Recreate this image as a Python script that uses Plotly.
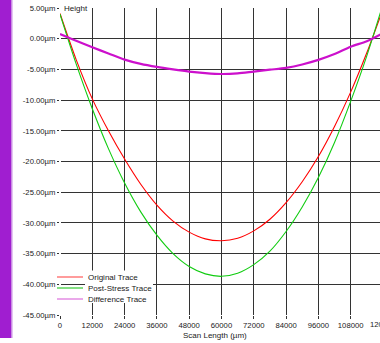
import plotly.graph_objects as go

# ---- data ----
scan_length = [0, 6000, 12000, 18000, 24000, 30000, 36000, 42000, 48000, 54000, 60000,
               66000, 72000, 78000, 84000, 90000, 96000, 102000, 108000, 114000, 120000]
original_trace = [4.1, -3.4, -9.8, -15.0, -19.6, -23.7, -27.1, -29.7, -31.5, -32.6, -32.9,
                  -32.5, -31.3, -29.4, -26.7, -23.3, -19.2, -14.3, -8.7, -2.3, 4.8]
post_stress_trace = [4.0, -4.1, -11.4, -17.9, -23.5, -28.2, -32.0, -35.0, -37.1, -38.3, -38.7,
                     -38.2, -36.8, -34.6, -31.4, -27.4, -22.6, -16.9, -10.2, -2.8, 5.6]
difference_trace = [0.75, -0.35, -1.4, -2.4, -3.4, -4.1, -4.6, -5.0, -5.35, -5.6, -5.75,
                    -5.65, -5.35, -5.05, -4.75, -4.2, -3.45, -2.5, -1.3, -0.4, 0.9]

x_tick_vals = [0, 12000, 24000, 36000, 48000, 60000, 72000, 84000, 96000, 108000, 120000]
x_tick_text = ["0", "12000", "24000", "36000", "48000", "60000", "72000", "84000",
               "96000", "108000", "120000"]
y_tick_vals = [5, 0, -5, -10, -15, -20, -25, -30, -35, -40, -45]
y_tick_text = ["5.00µm", "0.00µm", "-5.00µm", "-10.00µm", "-15.00µm", "-20.00µm",
               "-25.00µm", "-30.00µm", "-35.00µm", "-40.00µm", "-45.00µm"]
series_names = ["Original Trace", "Post-Stress Trace", "Difference Trace"]

FONT = "Liberation Sans, Arial, sans-serif"
W, H = 380, 343
ML, MR, MT, MB = 60, 0, 8, 28
PW, PH = W - ML - MR, H - MT - MB


def px_x(p):
    return (p - ML) / PW


def px_y(p):
    return (H - MB - p) / PH


fig = go.Figure()
colors = ["#FF0000", "#11CC11", "#CC10CC"]
widths = [1.1, 1.1, 2.2]
for name, ys, c, w in zip(series_names, [original_trace, post_stress_trace, difference_trace],
                          colors, widths):
    fig.add_trace(go.Scatter(x=scan_length, y=ys, mode="lines", name=name,
                             line=dict(color=c, width=w, shape="spline", smoothing=0.8),
                             showlegend=False))

grid = "#333333"
fig.update_layout(
    width=W, height=H,
    margin=dict(l=ML, r=MR, t=MT, b=MB, pad=0, autoexpand=False),
    paper_bgcolor="white", plot_bgcolor="white",
    font=dict(family=FONT, size=8, color="#1a1a1a"),
    xaxis=dict(range=[0, 118900], tickmode="array", tickvals=x_tick_vals[:-1],
               ticktext=x_tick_text[:-1], showgrid=True, gridcolor=grid, gridwidth=1,
               zeroline=True, zerolinecolor="white", zerolinewidth=1,
               showline=False, ticks="outside", ticklen=3, tickcolor=grid,
               automargin=False,
               tickfont=dict(size=7.7, family=FONT, color="#1a1a1a")),
    yaxis=dict(range=[-45, 5], tickmode="array", tickvals=y_tick_vals, ticktext=y_tick_text,
               showgrid=True, gridcolor=grid, gridwidth=1, zeroline=False, showline=False,
               ticks="outside", ticklen=2, tickcolor=grid, automargin=False,
               tickfont=dict(size=7.7, family=FONT, color="#1a1a1a")),
)

shapes = []
# purple strip at the left edge
shapes.append(dict(type="rect", xref="paper", yref="paper", x0=px_x(0), x1=px_x(11),
                   y0=px_y(338), y1=px_y(0), fillcolor="#A01ED0", line=dict(width=0),
                   layer="below"))
shapes.append(dict(type="rect", xref="paper", yref="paper", x0=px_x(11), x1=px_x(12.5),
                   y0=px_y(338), y1=px_y(0), fillcolor="#C98BE3", line=dict(width=0),
                   layer="below"))
# legend white box
shapes.append(dict(type="rect", xref="paper", yref="paper", x0=px_x(85), x1=px_x(153),
                   y0=px_y(303), y1=px_y(270.5), fillcolor="white", line=dict(width=0),
                   layer="above"))
legend_y = [277, 288, 299]
legend_cols = ["#FF5a5a", "#33CC33", "#DD70DD"]
annotations = []
for name, ly, lc in zip(series_names, legend_y, legend_cols):
    shapes.append(dict(type="line", xref="paper", yref="paper", x0=px_x(57), x1=px_x(83),
                       y0=px_y(ly), y1=px_y(ly), line=dict(color=lc, width=1.2),
                       layer="above"))
    annotations.append(dict(text=name, xref="paper", yref="paper", x=px_x(86), y=px_y(ly),
                            xanchor="left", yanchor="middle", showarrow=False,
                            font=dict(size=8, family=FONT, color="#1a1a1a")))

# "Height" label on top gridline
annotations.append(dict(text="Height", xref="paper", yref="paper", x=px_x(62), y=1,
                        xanchor="left", yanchor="middle", showarrow=False, bgcolor="white",
                        borderpad=1, font=dict(size=8, family=FONT, color="#1a1a1a")))
# clipped last tick label at the right edge
annotations.append(dict(text=x_tick_text[-1], xref="paper", yref="paper",
                        x=px_x(382.5), y=px_y(324), xanchor="center", yanchor="middle",
                        showarrow=False, font=dict(size=7.7, family=FONT, color="#1a1a1a")))
# x-axis title
annotations.append(dict(text="Scan Length (µm)", xref="paper", yref="paper",
                        x=px_x(215), y=px_y(335), xanchor="center", yanchor="middle",
                        showarrow=False, font=dict(size=8, family=FONT, color="#1a1a1a")))

fig.update_layout(shapes=shapes, annotations=annotations)
fig.write_html("out.html", config={"displayModeBar": False, "staticPlot": True},
               post_script="document.body.style.margin='0';document.body.style.overflow='hidden';")
